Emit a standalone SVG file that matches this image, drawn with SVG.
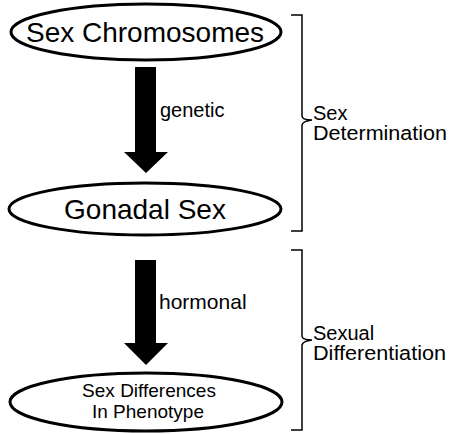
<svg xmlns="http://www.w3.org/2000/svg" width="452" height="434" viewBox="0 0 452 434">
<style>
text{font-family:"Liberation Sans",Arial,sans-serif;fill:#000}
.node ellipse{fill:#fff;stroke:#000;stroke-width:3}
.big{font-size:28px}
.mid{font-size:19px}
.lbl{font-size:20px}
.br{fill:none;stroke:#000;stroke-width:1.5}
.arr{fill:#000}
</style>
<rect width="452" height="434" fill="#fff"/>
<g id="connectors">
<polygon class="arr" points="135,67 156,67 156,152 168,152 146,173 124,152 135,152"/>
<polygon class="arr" points="135,260 156,260 156,343 168,343 146,365 124,343 135,343"/>
<text class="lbl" x="160" y="117">genetic</text>
<text class="lbl" x="159" y="309" style="font-size:21px">hormonal</text>
</g>
<g id="n1" class="node">
<ellipse cx="146" cy="32" rx="135" ry="28"/>
<text class="big" x="145" y="42" text-anchor="middle">Sex Chromosomes</text>
</g>
<g id="n2" class="node">
<ellipse cx="145" cy="209" rx="136" ry="26"/>
<text class="big" x="145" y="219" text-anchor="middle">Gonadal Sex</text>
</g>
<g id="n3" class="node">
<ellipse cx="146" cy="402" rx="136" ry="29"/>
<text class="mid" x="149" y="397" text-anchor="middle">Sex Differences</text>
<text class="mid" x="148" y="418" text-anchor="middle">In Phenotype</text>
</g>
<g id="b1">
<path class="br" d="M291,15 H302 V116 Q302,120 312,120 Q303,121 302,125 V231 H291"/>
<text class="lbl" x="313" y="120">Sex</text>
<text class="lbl" x="313" y="140" textLength="134" lengthAdjust="spacingAndGlyphs">Determination</text>
</g>
<g id="b2">
<path class="br" d="M291,250 H302 V336 Q302,340 312,340 Q303,341 302,345 V430 H291"/>
<text class="lbl" x="313" y="340">Sexual</text>
<text class="lbl" x="313" y="360" textLength="133" lengthAdjust="spacingAndGlyphs">Differentiation</text>
</g>
</svg>
